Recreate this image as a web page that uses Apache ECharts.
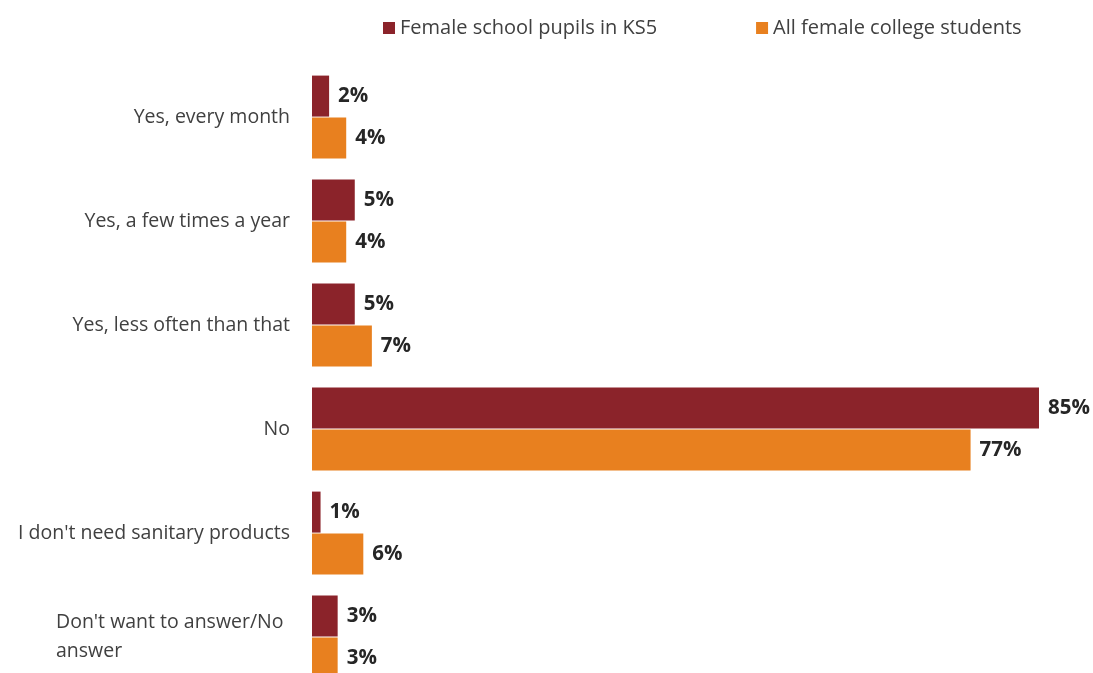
<!DOCTYPE html>
<html>
<head>
<meta charset="utf-8">
<script src="https://cdn.jsdelivr.net/npm/echarts@6/dist/echarts.min.js"></script>
<style>
  html, body { margin: 0; padding: 0; background: #fff; overflow: hidden; }
  /* the last bar runs just past the bottom edge of the window */
  #chart { width: 1093px; height: 690px; }
</style>
</head>
<body>
<div id="chart"></div>
<script>
// Survey answers, top to bottom
const categories = [
  'Yes, every month',
  'Yes, a few times a year',
  'Yes, less often than that',
  'No',
  "I don't need sanitary products",
  "Don't want to answer/No answer"
];
const seriesNames = ['Female school pupils in KS5', 'All female college students'];
const schoolPupils = [2, 5, 5, 85, 1, 3];
const collegeStudents = [4, 4, 7, 77, 6, 3];

const FONT = '"Open Sans", "Noto Sans", sans-serif';
const chart = echarts.init(document.getElementById('chart'), null, { renderer: 'canvas' });

const labelStyle = {
  show: true,
  position: 'right',
  distance: 9,
  formatter: '{c}%',
  fontFamily: FONT,
  fontWeight: 'bold',
  fontSize: 20.5,
  color: '#262626'
};

chart.setOption({
  animation: false,
  backgroundColor: '#ffffff',
  legend: {
    top: 13,
    left: 378,
    itemWidth: 12,
    itemHeight: 12,
    itemGap: 99,
    icon: 'rect',
    textStyle: { fontFamily: FONT, fontSize: 20, color: '#404040', padding: [0, 0, 0, 0] },
    data: seriesNames
  },
  grid: { left: 312, right: 54, top: 65, height: 624 },
  xAxis: {
    type: 'value',
    min: 0,
    max: 85,
    show: false
  },
  yAxis: {
    type: 'category',
    inverse: true,
    data: categories,
    axisLine: { show: false },
    axisTick: { show: false },
    axisLabel: {
      margin: 22,
      fontFamily: FONT,
      fontSize: 19.5,
      color: '#404040',
      formatter: function (v) {
        if (v === "Don't want to answer/No answer") {
          return "{w|Don't want to answer/No}\n{w|answer}";
        }
        return v;
      },
      rich: {
        w: { width: 234, align: 'left', fontFamily: FONT, fontSize: 19.5, color: '#404040', lineHeight: 29 }
      }
    }
  },
  series: [
    {
      name: seriesNames[0],
      type: 'bar',
      data: schoolPupils,
      barWidth: 41,
      barGap: '2%',
      itemStyle: { color: '#8B232A' },
      label: labelStyle
    },
    {
      name: seriesNames[1],
      type: 'bar',
      data: collegeStudents,
      barWidth: 41,
      barGap: '2%',
      itemStyle: { color: '#E8801F' },
      label: labelStyle
    }
  ]
});
</script>
</body>
</html>
